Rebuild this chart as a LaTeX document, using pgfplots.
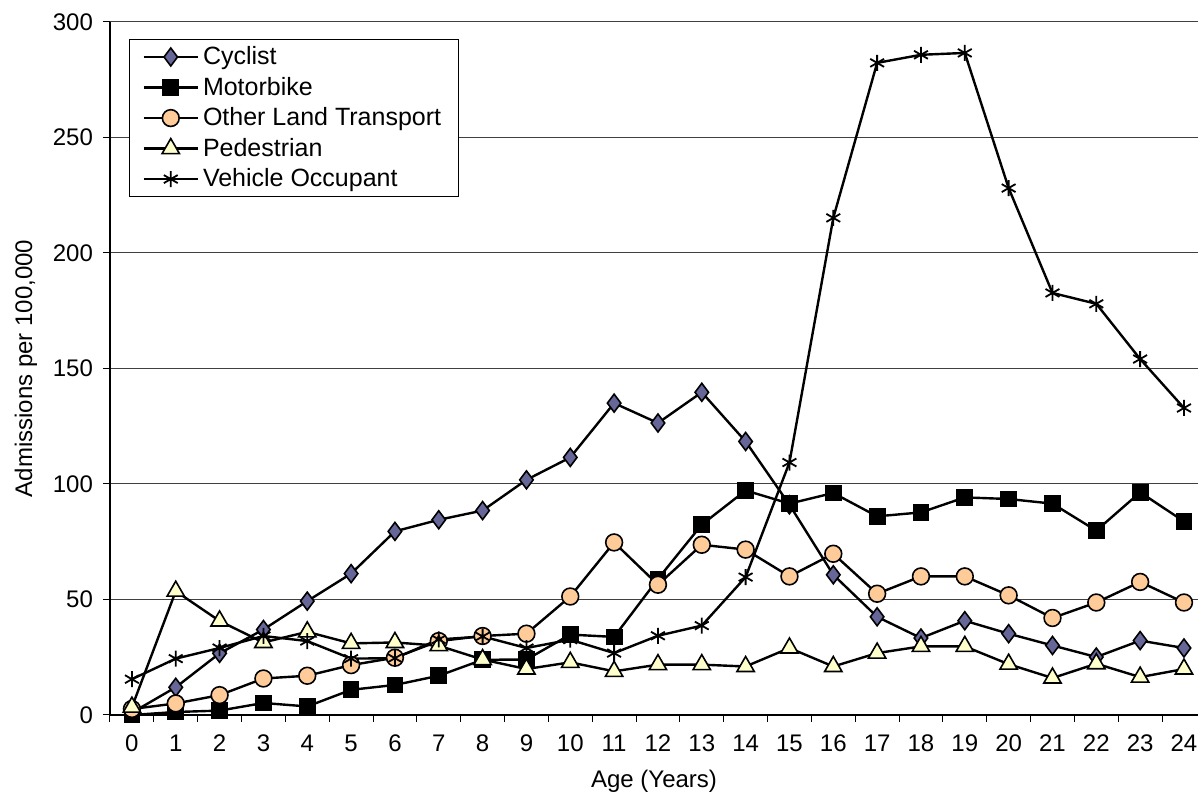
\documentclass[border=0pt]{standalone}
\usepackage{pgfplots}
\pgfplotsset{compat=1.18}
\usepackage{pgfplotstable}
\usepackage{fontspec}
\setmainfont{Liberation Sans}

\definecolor{cyc}{RGB}{102,102,153}
\definecolor{oth}{RGB}{255,204,153}
\definecolor{ped}{RGB}{255,255,204}

\pgfplotstableread{
age cyc mot oth ped veh
0  1     0    2.6  3.4  15.5
1  12    1.3  5    53.6 24.4
2  26.7  1.9  8.6  40.7 29
3  37    5.2  15.8 31.4 34.2
4  49.3  3.7  17   36   32
5  61.2  10.9 21.6 31   24.4
6  79.5  13   24.8 31.4 24.6
7  84.5  17   32   30   32.7
8  88.5  23.9 34.2 24   34
9  101.8 24   35.2 19.9 29
10 111.5 34.8 51.3 22.8 32.6
11 135   33.8 74.7 18.9 26.8
12 126.4 58.9 56.4 21.8 34.3
13 139.7 82.4 73.7 21.8 38.7
14 118.4 97.2 71.6 21   59.7
15 91    91.5 60   29   109.3
16 60.7  96.1 69.8 21   215.2
17 42.5  86   52.5 26.8 282.3
18 33.3  87.7 60   29.7 285.8
19 40.8  94.2 60   29.7 286.6
20 35.2  93.5 51.8 22   228.1
21 30.1  91.5 42   16   182.7
22 25.1  79.8 48.7 22.2 178
23 32.2  96.4 57.6 16.4 154.1
24 29    83.8 48.7 19.9 132.9
}\data

\begin{document}
\begin{tikzpicture}
\begin{axis}[
  scale only axis, width=544pt, height=346.5pt,
  xmin=-0.5, xmax=24.32, ymin=0, ymax=300,
  axis lines=left, axis line style={-, line width=0.6pt},
  xtick={0,...,24}, major x tick style={draw=none},
  minor xtick={-0.5,0.5,...,24.5},
  ytick={0,50,...,300},
  tick align=outside, major tick length=3.5pt, minor tick length=3.5pt,
  tick style={black, line width=0.5pt},
  ymajorgrids, grid style={black!75, line width=0.5pt},
  /pgf/number format/assume math mode=true,
  /pgf/number format/1000 sep={},
  ticklabel style={font=\fontsize{12}{14}\selectfont},
  xticklabel style={yshift=-3pt},
  yticklabel style={xshift=-1.5pt},
  xlabel={Age (Years)}, ylabel={Admissions per 100,000},
  every axis x label/.style={at={(axis description cs:0.5,0)}, anchor=center, yshift=-33pt,
    font=\fontsize{12}{14}\selectfont},
  every axis y label/.style={at={(axis description cs:0,0.5)}, anchor=center, rotate=90, yshift=42pt,
    font=\fontsize{12}{14}\selectfont},
  legend style={at={(axis description cs:0.0175,0.9755)}, anchor=north west,
    draw=black, line width=0.5pt, font=\fontsize{12.5}{14}\selectfont,
    nodes={font=\fontsize{12.5}{14}\selectfont},
    inner xsep=6.5pt, inner ysep=1.5pt, row sep=0.7pt},
  legend cell align=left,
  legend image code/.code={
    \draw[mark repeat=2, mark phase=2, #1] plot coordinates {(0cm,0cm) (0.475cm,0cm) (0.95cm,0cm)};},
  every axis plot/.append style={line width=1.2pt, black},
]
\addplot[mark=diamond*, mark size=4.5pt, mark options={fill=cyc, draw=black, line width=0.8pt}] table[x=age, y=cyc] {\data};
\addlegendentry{Cyclist}
\addplot[mark=square*, mark size=3.8pt, mark options={fill=black, draw=black, line width=0.8pt}] table[x=age, y=mot] {\data};
\addlegendentry{Motorbike}
\addplot[mark=*, mark size=4.2pt, mark options={fill=oth, draw=black, line width=0.8pt}] table[x=age, y=oth] {\data};
\addlegendentry{Other Land Transport\hspace{5pt}}
\addplot[mark=triangle*, mark size=5pt, mark options={fill=ped, draw=black, line width=0.8pt}] table[x=age, y=ped] {\data};
\addlegendentry{Pedestrian}
\addplot[mark=asterisk, mark size=4pt, mark options={draw=black, line width=0.9pt}] table[x=age, y=veh] {\data};
\addlegendentry{Vehicle Occupant}
\end{axis}
\pgfresetboundingbox
\useasboundingbox ([shift={(-55pt,-40.5pt)}]current axis.south west) rectangle ([shift={(0pt,11pt)}]current axis.north east);
\end{tikzpicture}
\end{document}
